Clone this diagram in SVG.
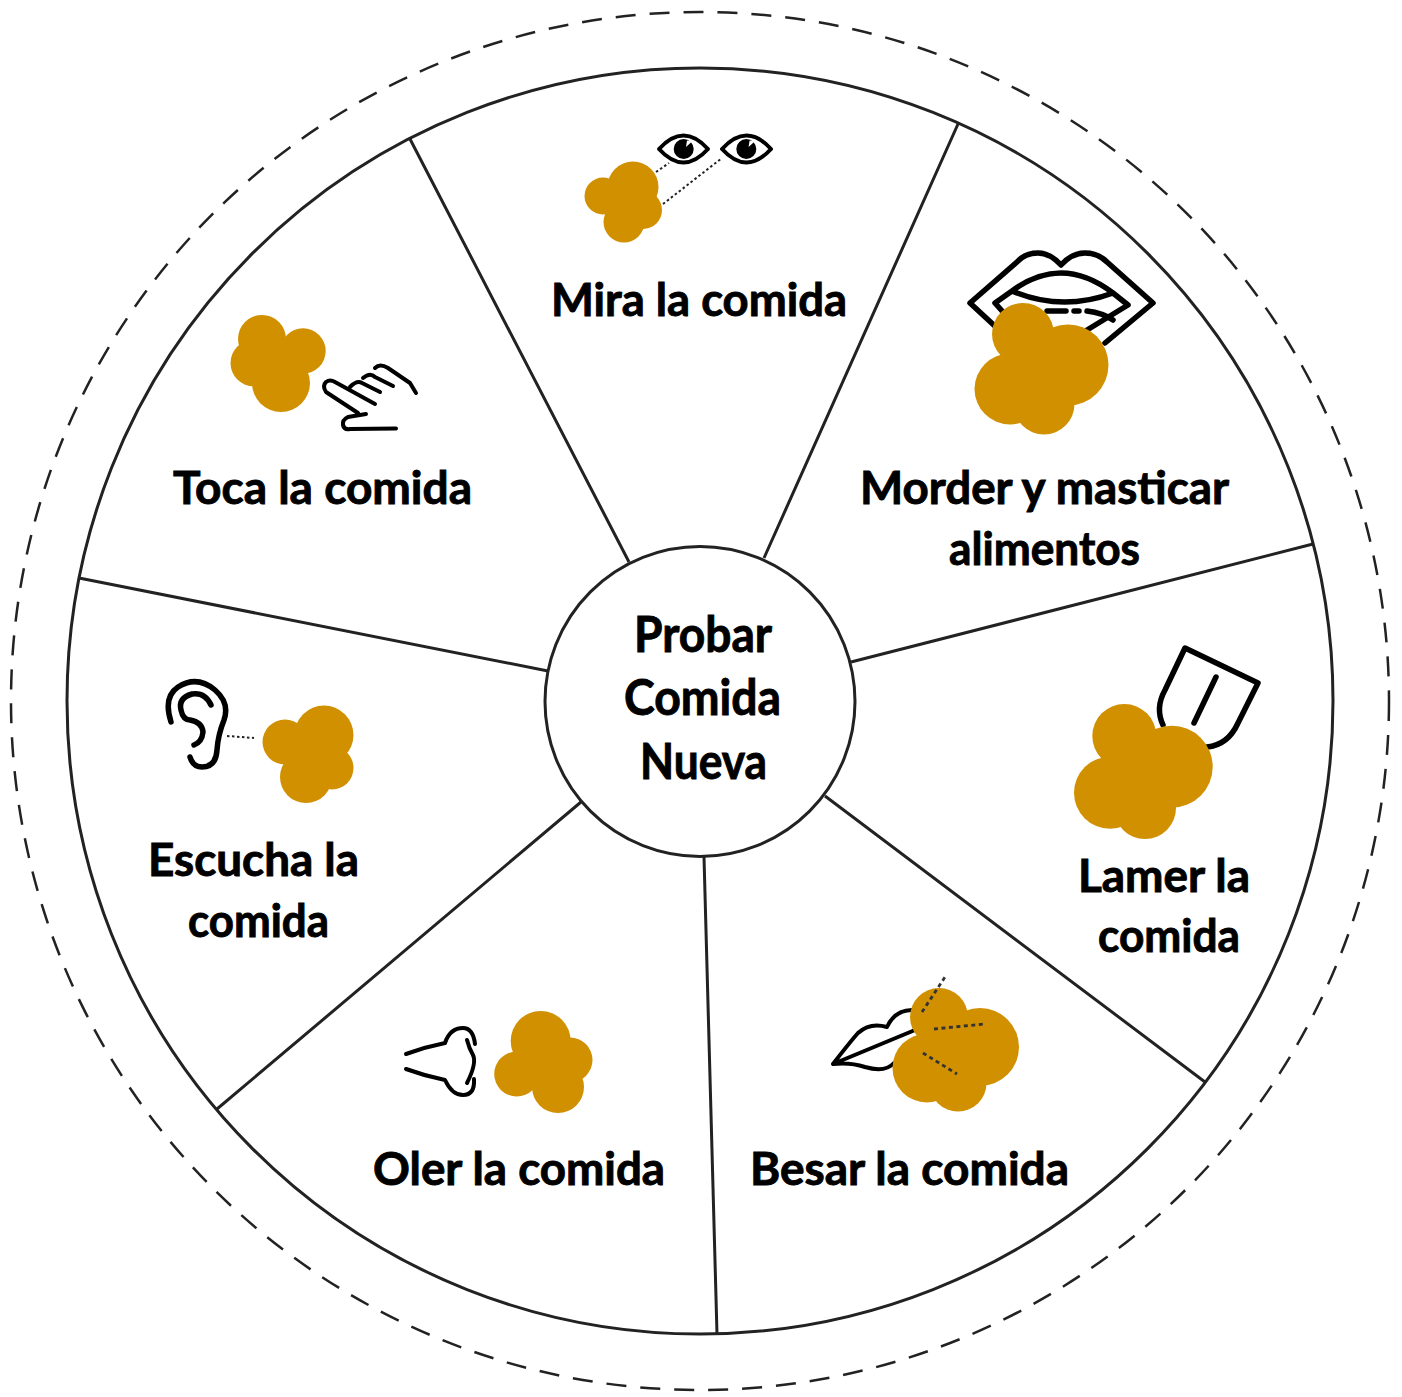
<svg xmlns="http://www.w3.org/2000/svg" width="1402" height="1397" viewBox="0 0 1402 1397">
<style>
.t{font-family:"Lato","Liberation Sans",sans-serif;font-weight:700;font-size:45px;fill:#000;stroke:#000;stroke-width:.9}
.c{font-size:49px}
.ring{fill:#fff;stroke:#222;stroke-width:3}
.sp{stroke:#222;stroke-width:3;fill:none}
.b{fill:#d19000}
.i{fill:none;stroke:#000;stroke-width:4;stroke-linecap:round;stroke-linejoin:round}
.i4{fill:none;stroke:#000;stroke-width:5.500;stroke-linecap:round;stroke-linejoin:round}
.d{fill:none;stroke:#222;stroke-width:2;stroke-dasharray:2.5 2.5}
.dk{fill:none;stroke:#333;stroke-width:2.800;stroke-dasharray:4 3.5}
</style>
<rect width="1402" height="1397" fill="#fff"/>
<circle cx="700" cy="701" r="689" fill="none" stroke="#222" stroke-width="2.500" stroke-dasharray="20 14"/>
<circle class="ring" cx="700" cy="701" r="633"/>
<g id="connectors">
<path class="sp" d="M410 139L629 562M958 124L764 558M1313 544L851 662M1205 1082L825 796M717 1334L704 857M217 1109L581 802M79 578L548 671"/>
</g>
<g id="center"><circle class="ring" cx="700" cy="701.500" r="155"/>
<text class="t c" x="634" y="652" textLength="138" lengthAdjust="spacingAndGlyphs">Probar</text>
<text class="t c" x="624" y="715" textLength="157" lengthAdjust="spacingAndGlyphs">Comida</text>
<text class="t c" x="640" y="779" textLength="127" lengthAdjust="spacingAndGlyphs">Nueva</text></g>
<g id="mira">
<g class="b"><circle cx="603" cy="196" r="18.500"/><circle cx="633" cy="187" r="25.500"/><circle cx="624" cy="222" r="20.500"/><circle cx="643" cy="210" r="19"/></g>
<path class="d" d="M656 172L669 163M663 204L722 158"/>
<path class="i" d="M659 149Q683.500 122 708 149Q683.500 176 659 149Z"/>
<path class="i" d="M722 149Q746.500 122 771 149Q746.500 176 722 149Z"/>
<circle cx="683.700" cy="149" r="10"/><circle cx="746.300" cy="149" r="10"/>
<path d="M686 147L692 141.500L687 140.500Z" fill="#fff"/><path d="M748.600 147L754.600 141.500L749.600 140.500Z" fill="#fff"/>
<text class="t" x="551" y="316" textLength="296" lengthAdjust="spacingAndGlyphs">Mira la comida</text></g>
<g id="morder">
<path class="i4" d="M970 303L1017 262Q1025 253 1038 253Q1050 253 1061 265Q1072 253 1085 253Q1098 253 1107 262L1153 303L1105 343M970 303L997 328"/>
<path class="i4" d="M995 303L1012 291Q1062 254 1113 293L1128 305L1087 330M995 303L1003 312M1012 291Q1062 312 1113 293"/>
<path class="i4" d="M1047 311L1066 311M1074 311L1079 311M1087 311Q1103 313 1113 320"/>
<g class="b"><circle cx="1023" cy="334" r="31"/><circle cx="1010" cy="389" r="35.500"/><circle cx="1068" cy="365" r="40.500"/><circle cx="1044" cy="404" r="30.500"/></g>
<text class="t" x="860" y="504" textLength="369" lengthAdjust="spacingAndGlyphs">Morder y masticar</text>
<text class="t" x="949" y="565" textLength="191" lengthAdjust="spacingAndGlyphs">alimentos</text></g>
<g id="lamer">
<path class="i4" d="M1163 725Q1155 708 1165 690L1185 648L1258 683L1238 723Q1228 745 1207 747"/>
<path class="i4" d="M1216 677L1194 723"/>
<g class="b"><circle cx="1124.300" cy="736" r="32"/><circle cx="1110" cy="792.700" r="36"/><circle cx="1171.700" cy="766.700" r="41"/><circle cx="1145" cy="808" r="31"/></g>
<text class="t" x="1078" y="892" textLength="172" lengthAdjust="spacingAndGlyphs">Lamer la</text>
<text class="t" x="1098" y="952" textLength="142" lengthAdjust="spacingAndGlyphs">comida</text></g>
<g id="besar">
<path class="i" d="M833 1064Q850 1042 858 1033Q870 1022 887 1027Q895 1010 912 1010M833 1064L915 1030M833 1064Q850 1062 865 1067Q885 1073 894 1063"/>
<g class="b"><circle cx="939" cy="1017" r="29"/><circle cx="927" cy="1068" r="34.500"/><circle cx="980" cy="1047" r="39"/><circle cx="958" cy="1083" r="28.500"/></g>
<path class="dk" d="M922 1012L945 977M934 1029L984 1024M923 1053L957 1074"/>
<text class="t" x="750" y="1185" textLength="319" lengthAdjust="spacingAndGlyphs">Besar la comida</text></g>
<g id="oler">
<path class="i" d="M406 1054Q425 1047 445 1043Q450 1028 463 1028Q473 1028 475 1044M406 1069Q425 1076 445 1080Q452 1095 463 1095Q475 1095 474 1079M467 1040Q469 1048 473 1055Q477 1063 467 1083"/>
<g class="b"><circle cx="540.700" cy="1041" r="30"/><circle cx="516.700" cy="1074" r="22.500"/><circle cx="570" cy="1060" r="22.500"/><circle cx="558" cy="1087" r="26"/></g>
<text class="t" x="373" y="1185" textLength="292" lengthAdjust="spacingAndGlyphs">Oler la comida</text></g>
<g id="escucha">
<path class="i4" d="M171 722Q163 697 178 687Q197 675 215 690Q230 703 224 720Q218 735 217 750Q216 767 202 767Q193 767 190 757"/>
<path class="i4" d="M211 705Q205 692 192 694Q178 698 181 710Q183 720 190 720Q202 722 203 732Q202 742 194 745"/>
<path class="d" d="M227 736L254 738"/>
<g class="b"><circle cx="285" cy="742" r="22.500"/><circle cx="324" cy="735" r="29.500"/><circle cx="306" cy="777" r="26"/><circle cx="332" cy="768" r="21.500"/></g>
<text class="t" x="148" y="876" textLength="211" lengthAdjust="spacingAndGlyphs">Escucha la</text>
<text class="t" x="188" y="937" textLength="141" lengthAdjust="spacingAndGlyphs">comida</text></g>
<g id="toca">
<g class="b"><circle cx="262" cy="339" r="24"/><circle cx="254" cy="363" r="23.500"/><circle cx="303" cy="351" r="22.700"/><circle cx="281" cy="383" r="29"/></g>
<path class="i" d="M366 414L348 417Q342 420 343 425Q344 430 350 429L396 428.500M358 413L326 392Q322 386 326 382Q330 379 335 382L375 404M350 387Q357 380 362 383L380 392M363 378Q370 372 375 377L393 386M375 368Q380 363 388 368L410 383L416 393"/>
<text class="t" x="173" y="504" textLength="299" lengthAdjust="spacingAndGlyphs">Toca la comida</text></g>
</svg>
